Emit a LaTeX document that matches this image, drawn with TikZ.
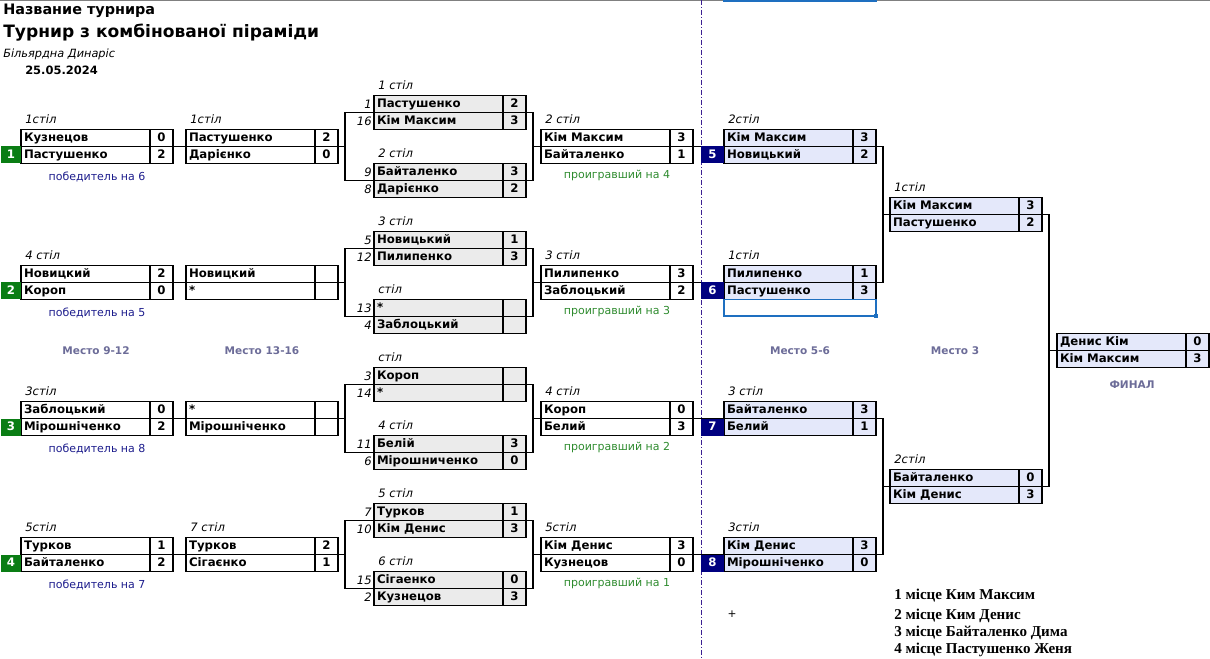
\documentclass[tikz,border=0pt]{standalone}
\usepackage{fontspec}
\setmainfont{DejaVu Sans}
\newfontfamily\resfont{Liberation Serif}
\usetikzlibrary{positioning,calc,backgrounds}
\definecolor{ink}{HTML}{000000}
\definecolor{seedfill}{HTML}{EBEBEB}
\definecolor{lowfill}{HTML}{E4E8FA}
\definecolor{winbg}{HTML}{0A7D14}
\definecolor{navy}{HTML}{000080}
\definecolor{winblue}{HTML}{1C1C8C}
\definecolor{losegreen}{HTML}{2E8B2E}
\definecolor{slate}{HTML}{6C6C98}
\definecolor{sepcol}{HTML}{3A1E90}
\definecolor{selblue}{HTML}{1E6FC0}
\definecolor{topgray}{HTML}{808080}
\tikzset{
  every node/.style={text=ink},
  cell/.style={draw=ink,line width=0.8pt,outer sep=0pt,inner ysep=0pt,minimum height=12.75pt,
    font=\fontsize{8.8}{10}\selectfont\bfseries,text height=6.4pt,text depth=1.6pt},
  namecell/.style={cell,text width=92.25pt,align=left,inner xsep=2.25pt},
  scorecell/.style={cell,minimum width=17.25pt,inner xsep=0pt,align=center},
  winbadge/.style={fill=winbg,text=white,font=\fontsize{8.8}{10}\selectfont\bfseries,minimum width=15pt,
    minimum height=12.75pt,inner sep=0pt,outer sep=0pt,text height=6.4pt,text depth=1.6pt},
  placebadge/.style={winbadge,fill=navy,minimum width=17.25pt},
  tbl/.style={font=\fontsize{8.7}{10}\selectfont\itshape,inner sep=0pt,text depth=0pt},
  seed/.style={font=\fontsize{8.7}{10}\selectfont\itshape,inner sep=0pt},
  winnote/.style={font=\fontsize{8.25}{10}\selectfont,text=winblue,inner sep=0pt},
  losenote/.style={winnote,text=losegreen},
  placehead/.style={font=\fontsize{7.9}{10}\selectfont\bfseries,text=slate,inner sep=0pt},
  result/.style={font=\resfont\bfseries\fontsize{11.3}{13}\selectfont,anchor=base west,inner sep=0pt},
  header/.style={anchor=base west,inner sep=0pt},
  wire/.style={draw=ink,line width=0.8pt},
  sepline/.style={draw=sepcol,line width=1pt,dash pattern=on 3.5pt off 1.5pt on 1pt off 1.5pt},
  selbox/.style={draw=selblue,line width=1.2pt,minimum width=114pt,minimum height=12.5pt,inner sep=0pt,outer sep=0pt},
}
% one match: id, x, y, fill, table, player/score, player/score
\newcommand{\matchbox}[9]{%
  \node[namecell,fill=#4,anchor=north west] (#1-a) at (#2,#3) {#6};
  \node[scorecell,fill=#4,anchor=north west] (#1-as) at (#1-a.north east) {#7};
  \node[namecell,fill=#4,anchor=north west] (#1-b) at (#1-a.south west) {#8};
  \node[scorecell,fill=#4,anchor=north west] (#1-bs) at (#1-b.north east) {#9};
  \node[tbl,above right=4.5pt and 3pt of #1-a.north west] (#1-t) {#5};
}
\begin{document}
\begin{tikzpicture}[x=0.75pt,y=-0.75pt]
\useasboundingbox (0,0) rectangle (1210,659);

% heading
\node[header,font=\fontsize{10.8}{13}\selectfont\bfseries] (head) at (3,15) {Название турнира};
\node[header,font=\fontsize{12.8}{15}\selectfont\bfseries] (title) at (3,38) {Турнир з комбінованої піраміди};
\node[header,font=\fontsize{8.5}{11}\selectfont\itshape] (club) at (3,58) {Більярдна Динаріс};
\node[header,font=\fontsize{8.6}{11}\selectfont\bfseries] (date) at (25,75) {25.05.2024};

% first round
\matchbox{a1}{21}{129.5}{white}{1стіл}{Кузнецов}{0}{Пастушенко}{2}
\matchbox{a2}{21}{265.5}{white}{4 стіл}{Новицкий}{2}{Короп}{0}
\matchbox{a3}{21}{401.5}{white}{3стіл}{Заблоцький}{0}{Мірошніченко}{2}
\matchbox{a4}{21}{537.5}{white}{5стіл}{Турков}{1}{Байталенко}{2}
\node[winbadge,left=0pt of a1-b.west] (a1-k) {1};
\node[winbadge,left=0pt of a2-b.west] (a2-k) {2};
\node[winbadge,left=0pt of a3-b.west] (a3-k) {3};
\node[winbadge,left=0pt of a4-b.west] (a4-k) {4};
\node[winnote] (a1-w) at ($(a1-b.south west)!.5!(a1-bs.south east)+(0,13)$) {победитель на 6};
\node[winnote] (a2-w) at ($(a2-b.south west)!.5!(a2-bs.south east)+(0,13)$) {победитель на 5};
\node[winnote] (a3-w) at ($(a3-b.south west)!.5!(a3-bs.south east)+(0,13)$) {победитель на 8};
\node[winnote] (a4-w) at ($(a4-b.south west)!.5!(a4-bs.south east)+(0,13)$) {победитель на 7};

\matchbox{b1}{186}{129.5}{white}{1стіл}{Пастушенко}{2}{Дарієнко}{0}
\matchbox{b2}{186}{265.5}{white}{}{Новицкий}{}{*}{}
\matchbox{b3}{186}{401.5}{white}{}{*}{}{Мірошніченко}{}
\matchbox{b4}{186}{537.5}{white}{7 стіл}{Турков}{2}{Сігаєнко}{1}

% seeded round
\matchbox{q1}{374}{95.5}{seedfill}{1 стіл}{Пастушенко}{2}{Кім Максим}{3}
\matchbox{q2}{374}{163.5}{seedfill}{2 стіл}{Байталенко}{3}{Дарієнко}{2}
\matchbox{q3}{374}{231.5}{seedfill}{3 стіл}{Новицький}{1}{Пилипенко}{3}
\matchbox{q4}{374}{299.5}{seedfill}{стіл}{*}{}{Заблоцький}{}
\matchbox{q5}{374}{367.5}{seedfill}{стіл}{Короп}{}{*}{}
\matchbox{q6}{374}{435.5}{seedfill}{4 стіл}{Белій}{3}{Мірошниченко}{0}
\matchbox{q7}{374}{503.5}{seedfill}{5 стіл}{Турков}{1}{Кім Денис}{3}
\matchbox{q8}{374}{571.5}{seedfill}{6 стіл}{Сігаенко}{0}{Кузнецов}{3}
\node[seed,left=1.5pt of q1-a.west] (q1-n) {1};
\node[seed,left=1.5pt of q1-b.west] (q1-m) {16};
\node[seed,left=1.5pt of q2-a.west] (q2-n) {9};
\node[seed,left=1.5pt of q2-b.west] (q2-m) {8};
\node[seed,left=1.5pt of q3-a.west] (q3-n) {5};
\node[seed,left=1.5pt of q3-b.west] (q3-m) {12};
\node[seed,left=1.5pt of q4-a.west] (q4-n) {13};
\node[seed,left=1.5pt of q4-b.west] (q4-m) {4};
\node[seed,left=1.5pt of q5-a.west] (q5-n) {3};
\node[seed,left=1.5pt of q5-b.west] (q5-m) {14};
\node[seed,left=1.5pt of q6-a.west] (q6-n) {11};
\node[seed,left=1.5pt of q6-b.west] (q6-m) {6};
\node[seed,left=1.5pt of q7-a.west] (q7-n) {7};
\node[seed,left=1.5pt of q7-b.west] (q7-m) {10};
\node[seed,left=1.5pt of q8-a.west] (q8-n) {15};
\node[seed,left=1.5pt of q8-b.west] (q8-m) {2};

\matchbox{s1}{541}{129.5}{white}{2 стіл}{Кім Максим}{3}{Байталенко}{1}
\matchbox{s2}{541}{265.5}{white}{3 стіл}{Пилипенко}{3}{Заблоцький}{2}
\matchbox{s3}{541}{401.5}{white}{4 стіл}{Короп}{0}{Белий}{3}
\matchbox{s4}{541}{537.5}{white}{5стіл}{Кім Денис}{3}{Кузнецов}{0}
\node[losenote] (s1-w) at ($(s1-b.south west)!.5!(s1-bs.south east)+(0,12)$) {проигравший на 4};
\node[losenote] (s2-w) at ($(s2-b.south west)!.5!(s2-bs.south east)+(0,12)$) {проигравший на 3};
\node[losenote] (s3-w) at ($(s3-b.south west)!.5!(s3-bs.south east)+(0,12)$) {проигравший на 2};
\node[losenote] (s4-w) at ($(s4-b.south west)!.5!(s4-bs.south east)+(0,12)$) {проигравший на 1};

% places 5-8, 3, final
\matchbox{l1}{724}{129.5}{lowfill}{2стіл}{Кім Максим}{3}{Новицький}{2}
\matchbox{l2}{724}{265.5}{lowfill}{1стіл}{Пилипенко}{1}{Пастушенко}{3}
\matchbox{l3}{724}{401.5}{lowfill}{3 стіл}{Байталенко}{3}{Белий}{1}
\matchbox{l4}{724}{537.5}{lowfill}{3стіл}{Кім Денис}{3}{Мірошніченко}{0}
\node[placebadge,left=0pt of l1-b.west] (l1-k) {5};
\node[placebadge,left=0pt of l2-b.west] (l2-k) {6};
\node[placebadge,left=0pt of l3-b.west] (l3-k) {7};
\node[placebadge,left=0pt of l4-b.west] (l4-k) {8};
\node[selbox,anchor=north west] (sel) at (l2-b.south west) {};
\node[fill=selblue,minimum size=3pt,inner sep=0pt] (sel-h) at (sel.south east) {};

\matchbox{t1}{890}{197.5}{lowfill}{1стіл}{Кім Максим}{3}{Пастушенко}{2}
\matchbox{t2}{890}{469.5}{lowfill}{2стіл}{Байталенко}{0}{Кім Денис}{3}
\matchbox{fin}{1057}{333.5}{lowfill}{}{Денис Кім}{0}{Кім Максим}{3}

\node[placehead] (pl912) at (96,351) {Место 9-12};
\node[placehead] (pl1316) at (262,351) {Место 13-16};
\node[placehead] (pl56) at (800,351) {Место 5-6};
\node[placehead] (pl3) at (955,351) {Место 3};
\node[placehead] (plfin) at (1132,385) {ФИНАЛ};

\node[font=\fontsize{8}{10}\selectfont,inner sep=0pt] (plus) at (732,614) {+};
\node[result] (res1) at (894,599) {1 місце Ким Максим};
\node[result] (res2) at (894,619) {2 місце Ким Денис};
\node[result] (res3) at (894,636.5) {3 місце Байталенко Дима};
\node[result] (res4) at (894,653) {4 місце Пастушенко Женя};

\begin{scope}[on background layer]
\draw[topgray,line width=1pt] (0,0.5) -- (1210,0.5);
\draw[selblue,line width=1.3pt] (723,0.8) -- (877,0.8);
\draw[sepline] (701.5,0) -- (701.5,659);
% first round to second
\draw[wire] (a1-as.south east) -- (b1-a.south west);
\draw[wire] (a2-as.south east) -- (b2-a.south west);
\draw[wire] (a3-as.south east) -- (b3-a.south west);
\draw[wire] (a4-as.south east) -- (b4-a.south west);
\draw[wire] (b1-as.south east) -- ++(7,0);
\draw[wire] (b2-as.south east) -- ++(7,0);
\draw[wire] (b3-as.south east) -- ++(7,0);
\draw[wire] (b4-as.south east) -- ++(7,0);
% brackets round the seeded pairs
\draw[wire] (q1-a.south west) -- ++(-29,0) |- (q2-a.south west);
\draw[wire] (q1-as.south east) -- ++(7,0) |- (q2-as.south east);
\draw[wire] (q3-a.south west) -- ++(-29,0) |- (q4-a.south west);
\draw[wire] (q3-as.south east) -- ++(7,0) |- (q4-as.south east);
\draw[wire] (q5-a.south west) -- ++(-29,0) |- (q6-a.south west);
\draw[wire] (q5-as.south east) -- ++(7,0) |- (q6-as.south east);
\draw[wire] (q7-a.south west) -- ++(-29,0) |- (q8-a.south west);
\draw[wire] (q7-as.south east) -- ++(7,0) |- (q8-as.south east);
\draw[wire] (s1-a.south west) -- ++(-8,0);
\draw[wire] (s2-a.south west) -- ++(-8,0);
\draw[wire] (s3-a.south west) -- ++(-8,0);
\draw[wire] (s4-a.south west) -- ++(-8,0);
\draw[wire] (s1-as.south east) -- (l1-a.south west);
\draw[wire] (s2-as.south east) -- (l2-a.south west);
\draw[wire] (s3-as.south east) -- (l3-a.south west);
\draw[wire] (s4-as.south east) -- (l4-a.south west);
% right side
\draw[wire] (l1-as.south east) -- ++(7,0) |- (l2-as.south east);
\draw[wire] (l3-as.south east) -- ++(7,0) |- (l4-as.south east);
\draw[wire] (t1-a.south west) -- ++(-7,0);
\draw[wire] (t2-a.south west) -- ++(-7,0);
\draw[wire] (t1-as.south east) -- ++(7,0) |- (t2-as.south east);
\draw[wire] (fin-a.south west) -- ++(-7,0);
\end{scope}
\end{tikzpicture}
\end{document}
